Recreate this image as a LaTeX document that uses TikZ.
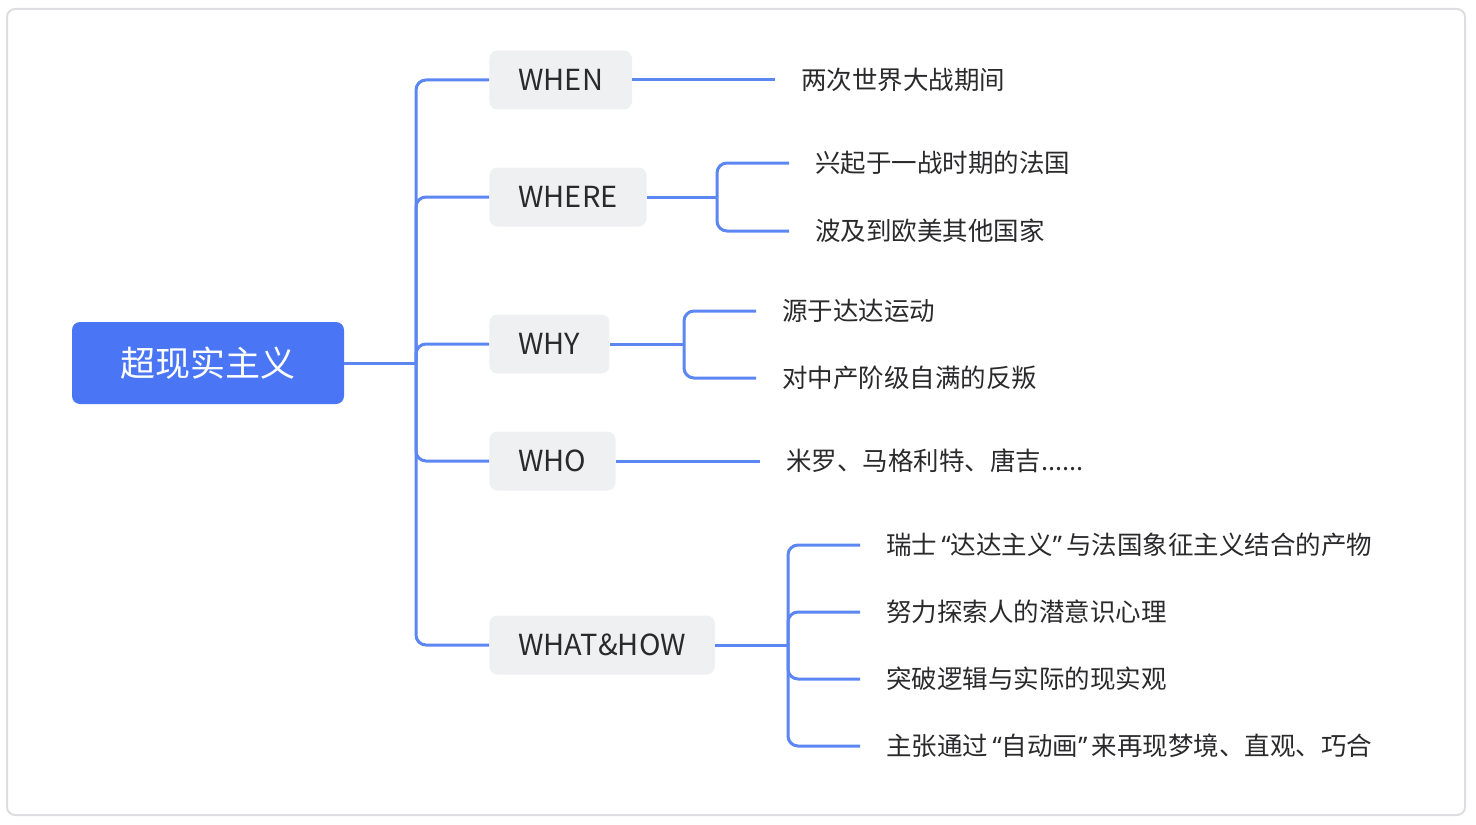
\documentclass[tikz,border=0pt]{standalone}
\usepackage{fontspec}
\setmainfont{Noto Sans CJK SC}
\newfontfamily\quotefont{Noto Sans}
\usepackage{tikz}
\usetikzlibrary{calc}

\definecolor{rootblue}{HTML}{4A76F5}
\definecolor{linkblue}{HTML}{5C87F2}
\definecolor{boxgray}{HTML}{EFF0F2}
\definecolor{framegray}{HTML}{DEDEE2}
\definecolor{textdark}{HTML}{2A2A2C}

\newcommand{\openq}{{\quotefont\,“}}
\newcommand{\closeq}{{\quotefont ”\,}}

\tikzset{
  root/.style={fill=rootblue, text=white, rounded corners=4pt,
    minimum width=136pt, minimum height=41pt,
    font=\fontsize{17.5}{20}\selectfont},
  branch/.style={fill=boxgray, text=textdark, rounded corners=4pt, anchor=west,
    minimum height=29.5pt, inner xsep=14.5pt,
    font=\fontsize{14.5}{17}\selectfont},
  leaf/.style={anchor=west, inner xsep=13pt, text=textdark,
    font=\fontsize{12.75}{14}\selectfont},
  link/.style={draw=linkblue, line width=1.5pt, rounded corners=5pt},
}

\begin{document}
\begin{tikzpicture}[x=0.5pt,y=-0.5pt]
    \useasboundingbox (0,0) rectangle (1476,824);
    \draw[framegray, line width=1pt, rounded corners=4pt] (7,9) rectangle (1465,815);

    \node[root] (root) at (208,363) {超现实主义};
    \coordinate (trunk) at (416,363);

    \node[branch] (when) at (489,80) {WHEN};
    \node[branch] (where) at (489,197) {WHERE};
    \node[branch] (why) at (489,344) {WHY};
    \node[branch] (who) at (489,461) {WHO};
    \node[branch] (how) at (489,645) {WHAT\&HOW};

    \node[leaf] (whenA) at (775,80) {两次世界大战期间};
    \node[leaf] (whereA) at (789,163) {兴起于一战时期的法国};
    \node[leaf] (whereB) at (789,231) {波及到欧美其他国家};
    \node[leaf] (whyA) at (756,311) {源于达达运动};
    \node[leaf] (whyB) at (756,378) {对中产阶级自满的反叛};
    \node[leaf] (whoA) at (760,461) {米罗、马格利特、唐吉......};
    \foreach \t/\y [count=\i] in {瑞士\openq 达达主义\closeq 与法国象征主义结合的产物/545,
        努力探索人的潜意识心理/612, 突破逻辑与实际的现实观/679,
        主张通过\openq 自动画\closeq 来再现梦境、直观、巧合/746}
        \node[leaf] (how\i) at (860,\y) {\t};

    \coordinate (whereSplit) at (717,197);
    \coordinate (whySplit) at (684,344);
    \coordinate (howSplit) at (788,645);

    \draw[link] (root.east) -- (trunk);
    \foreach \b in {when,where,why,who,how}
        \draw[link] (trunk) |- (\b.west);

    \draw[link] (when.east) -- (whenA.west);
    \draw[link] (who.east) -- (whoA.west);

    \draw[link] (where.east) -- (whereSplit);
    \foreach \l in {whereA,whereB}
        \draw[link] (whereSplit) |- (\l.west);
    \draw[link] (why.east) -- (whySplit);
    \foreach \l in {whyA,whyB}
        \draw[link] (whySplit) |- (\l.west);
    \draw[link] (how.east) -- (howSplit);
    \foreach \i in {1,...,4}
        \draw[link] (howSplit) |- (how\i.west);
\end{tikzpicture}
\end{document}
